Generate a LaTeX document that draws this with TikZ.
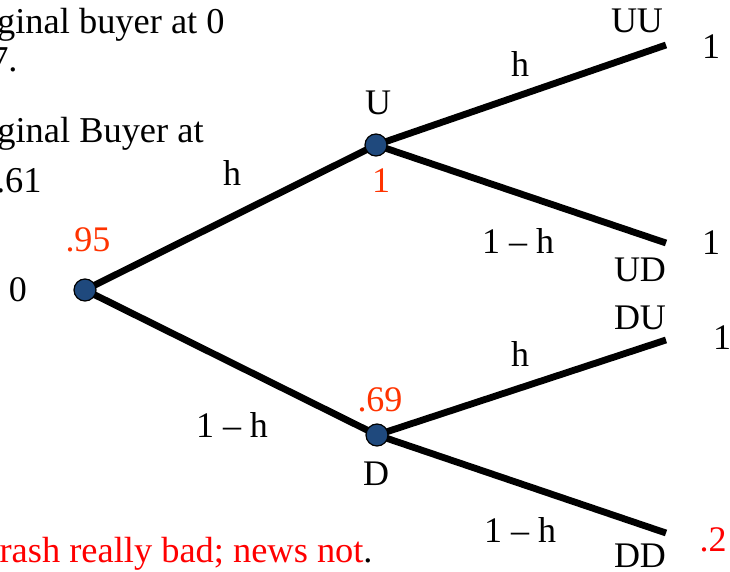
\documentclass[tikz,border=0pt]{standalone}
\usepackage{fontspec}
\setmainfont{Liberation Serif}
\definecolor{nodeblue}{RGB}{31,73,125}
\definecolor{orangered}{RGB}{255,51,0}
\definecolor{pured}{RGB}{255,0,0}
\begin{document}
\begin{tikzpicture}[x=0.5pt,y=-0.5pt,
  lbl/.style={inner sep=0pt,font=\fontsize{18}{21}\selectfont},
  big/.style={inner sep=0pt,font=\fontsize{18.2}{21}\selectfont},
  branch/.style={line width=3.4pt},
  dot/.style={circle,draw=black,line width=0.6pt,fill=nodeblue,minimum size=11pt,inner sep=0pt}]
\useasboundingbox (0,0) rectangle (730,572);
\clip (0,0) rectangle (730,572);
% nodes
\coordinate (r0) at (85,290);
\coordinate (u0) at (376,145);
\coordinate (d0) at (377,435);
\coordinate (uu) at (666,45);
\coordinate (ud) at (666,243);
\coordinate (du) at (666,340);
\coordinate (dd) at (666,533);
\draw[branch] (r0) -- (u0);
\draw[branch] (r0) -- (d0);
\draw[branch] (u0) -- (uu);
\draw[branch] (u0) -- (ud);
\draw[branch] (d0) -- (du);
\draw[branch] (d0) -- (dd);
\node[dot] (root) at (r0) {};
\node[dot] (U) at (u0) {};
\node[dot] (D) at (d0) {};
% labels
\node[lbl] (l0) at (18,290) {0};
\node[lbl,text=orangered] (l95) at (88,240) {.95};
\node[lbl] (lh1) at (232,173) {h};
\node[lbl] (lh2) at (232,425) {1 – h};
\node[lbl] (lU) at (378,103) {U};
\node[lbl,text=orangered] (l1u) at (381,181) {1};
\node[lbl,text=orangered] (l69) at (380,400) {.69};
\node[lbl] (lD) at (376,474) {D};
\node[lbl] (lh3) at (520,64) {h};
\node[lbl] (lh4) at (518,241) {1 – h};
\node[lbl] (lh5) at (520,354) {h};
\node[lbl] (lh6) at (520,530) {1 – h};
\node[lbl] (lUU) at (637,21) {UU};
\node[lbl] (v1) at (711,47) {1};
\node[lbl] (lUD) at (640,270) {UD};
\node[lbl] (v2) at (711,243) {1};
\node[lbl] (lDU) at (640,318) {DU};
\node[lbl] (v3) at (722,338) {1};
\node[lbl] (lDD) at (640,556) {DD};
\node[lbl,text=pured] (v4) at (713,540) {.2};
% cropped texts
\node[big,anchor=base east] (t1) at (225,34) {ginal buyer at 0};
\node[big,anchor=base east] (t2) at (18,72) {7.};
\node[big,anchor=base east] (t3) at (204,143) {ginal Buyer at};
\node[big,anchor=base east] (t4) at (42,193) {.61};
\node[big,anchor=base east] (t5) at (373,563) {\textcolor{pured}{rash really bad; news not}.};
\end{tikzpicture}
\end{document}
